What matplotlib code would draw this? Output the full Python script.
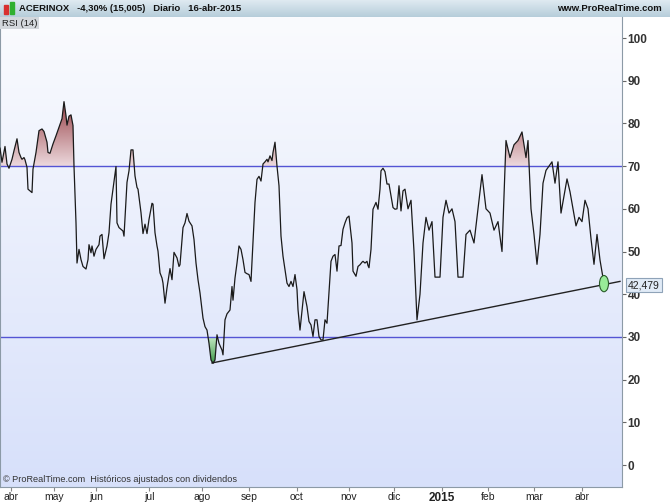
import numpy as np
import matplotlib
matplotlib.use("Agg")
import matplotlib.pyplot as plt
from matplotlib.colors import LinearSegmentedColormap
from matplotlib.patches import PathPatch, Ellipse, Rectangle
from matplotlib.path import Path

plt.rcParams["font.family"] = ["Liberation Sans", "DejaVu Sans"]

# RSI(14) ACERINOX, eje x = indice temporal (sesiones escaladas)
t = [0, 2, 5, 7, 9, 12, 14, 17, 19, 21, 22, 24, 25, 27, 28, 30, 32, 33, 36, 39,
     42, 44, 47, 48, 50, 53, 56, 59, 62, 64, 66, 67, 69, 71, 73, 74, 76, 77, 79, 81,
     83, 86, 88, 89, 91, 92, 94, 96, 99,
     100, 102, 104, 107, 109, 111, 113, 116, 117, 119, 121, 123, 124, 127, 129, 131,
     133, 135, 137, 138, 141, 143, 145, 147, 149, 152, 153, 155, 157, 158, 160, 162,
     163, 165, 167, 170, 172, 174, 177, 179, 180, 183, 185, 187, 189, 192, 194, 196,
     198, 200,
     203, 205, 207, 209, 211, 213, 215, 217, 219, 222, 223, 225, 227, 230, 232, 233,
     235, 237, 239, 241, 243, 245, 247, 249, 251, 253, 255, 257, 259, 261, 263, 265,
     267, 268, 270, 272, 273, 275, 277, 279, 281, 283, 285, 287, 289, 291, 293, 295,
     297, 298, 300,
     304, 307, 309, 311, 313, 315, 317, 319, 321, 323, 325, 327, 329, 331, 333, 335,
     337, 339, 341, 343, 345, 347, 349, 352, 353, 356, 358, 360, 362, 363, 365, 367,
     368, 369, 371, 373, 376, 378, 380, 381, 383, 385, 387, 389, 391, 393, 395, 397,
     399, 401, 403, 405,
     408, 411, 414, 417, 420, 423, 426, 429, 432, 435, 440, 443, 446, 449, 452, 455,
     458, 463, 466, 470, 474, 478, 482, 486, 490, 494, 498, 502, 506, 510, 514, 518,
     522, 526, 528, 531, 534, 537, 540, 543, 546, 549, 552, 555, 558, 561, 564, 567,
     570, 573, 576, 579, 582, 585, 588, 591, 594, 597, 600, 604]
rsi = [74.2, 70.9, 74.6, 70.5, 69.5, 71.6, 73.6, 76.4, 73.2, 72.0, 71.6, 72.0, 71.5,
       69.7, 64.6, 64.2, 63.8, 69.3, 73.2, 78.3, 78.7, 78.1, 75.6, 73.2, 73.0, 75.2,
       77.1, 79.1, 81.1, 85.1, 81.8, 79.6, 81.7, 82.0, 79.5, 70.0, 56.7, 47.3, 50.5,
       48.1, 46.5, 45.9, 48.1, 51.6, 49.7, 51.3, 48.9, 50.5, 51.6,
       53.6, 54.0, 48.3, 51.3, 54.4, 61.1, 64.6, 69.9, 56.7, 55.6, 55.2, 54.8, 53.6,
       66.2, 68.9, 73.8, 73.8, 67.7, 65.0, 64.6, 59.1, 54.2, 56.4, 54.2, 57.5, 61.3,
       61.1, 54.4, 51.3, 50.1, 45.0, 43.8, 42.6, 37.9, 41.5, 46.0, 43.4, 49.8, 48.5,
       46.5, 46.9, 55.6, 56.7, 58.9, 57.1, 56.0, 52.8, 47.3, 43.4, 40.3,
       34.4, 32.4, 31.6, 28.5, 24.6, 23.8, 24.6, 30.5, 28.5, 26.9, 25.8, 34.0, 35.4,
       36.3, 41.8, 38.6, 43.8, 47.3, 51.3, 50.5, 48.1, 45.1, 44.8, 44.6, 43.0, 52.0,
       61.5, 66.9, 67.6, 66.5, 70.5, 71.0, 71.6, 71.0, 72.4, 71.3, 73.2, 75.6, 70.0,
       65.4, 53.6, 48.9, 45.8, 42.6, 41.8, 43.0, 41.8, 44.6, 41.1, 36.4, 31.6,
       40.6, 37.1, 33.6, 32.8, 30.1, 34.0, 34.0, 30.1, 29.3, 29.3, 34.0, 33.2, 40.3,
       47.7, 48.9, 49.3, 45.4, 51.3, 51.4, 55.2, 56.7, 57.9, 58.3, 52.0, 45.4, 44.2,
       46.5, 46.9, 47.5, 47.7, 47.3, 47.7, 46.7, 46.2, 50.5, 59.9, 61.5, 59.9, 64.6,
       68.9, 69.5, 68.7, 65.8, 65.8, 63.0, 60.3, 59.9, 60.0, 65.4, 59.5, 64.2, 64.6,
       60.0, 62.0, 50.0, 34.0, 40.0, 52.0, 58.0, 55.0, 57.0, 44.0, 44.0, 58.0, 62.0,
       59.0, 60.0, 57.0, 44.0, 44.0, 54.0, 55.0, 52.0, 60.0, 68.0, 60.0, 59.0, 55.0,
       57.0, 50.0, 76.0, 72.0, 75.0, 76.0, 78.0, 72.0, 76.0, 60.0, 54.0, 47.0, 54.0,
       66.0, 69.0, 70.0, 71.0, 66.0, 71.0, 59.0, 63.0, 67.0, 64.0, 60.0, 56.0, 58.0,
       57.0, 62.0, 60.0, 53.0, 47.0, 54.0, 48.0, 42.479]

mes_pos = [11, 54, 96, 149, 202, 249, 297, 349, 394, 442, 488, 534, 582]
mes_txt = ["abr", "may", "jun", "jul", "ago", "sep", "oct", "nov", "dic", "2015",
           "feb", "mar", "abr"]

# linea de tendencia (soporte) entre el minimo de agosto y el ultimo valor
tend_t = [212, 620]
tend_v = [23.9, 43.0]

ultimo = 42.479

t = np.array(t)
rsi = np.array(rsi)

W, H = 670, 503
fig = plt.figure(figsize=(W / 100, H / 100), dpi=100)
fig.patch.set_facecolor("white")

# barra de cabecera
hdr = fig.add_axes([0, 1 - 17 / H, 1, 17 / H])
hdr.imshow(np.linspace(0, 1, 50).reshape(-1, 1), aspect="auto", extent=[0, 1, 0, 1],
           cmap=LinearSegmentedColormap.from_list("h", ["#dfeaf1", "#b6cdda"]))
hdr.set_xlim(0, 1)
hdr.set_ylim(0, 1)
hdr.axis("off")
hdr.add_patch(Rectangle((4 / W, 0.2), 4 / W, 0.5, color="#d83030"))
hdr.add_patch(Rectangle((10 / W, 0.15), 4 / W, 0.75, color="#30b030"))
hdr.text(19 / W, 0.5, "ACERINOX   -4,30% (15,005)   Diario   16-abr-2015",
         fontsize=6.8, fontweight="bold", va="center", color="#111111")
hdr.text(662 / W, 0.5, "www.ProRealTime.com", fontsize=6.8, fontweight="bold",
         va="center", ha="right", color="#111111")

ax = fig.add_axes([0, 16 / H, 622 / W, 470 / H])
ax.set_xlim(0, 622)
ax.set_ylim(-5.15, 104.92)

# fondo degradado
fondo = LinearSegmentedColormap.from_list("f", ["#d7e0fa", "#fafbfe"])
ax.imshow(np.linspace(0, 1, 200).reshape(-1, 1), aspect="auto", cmap=fondo,
          extent=[0, 1, 0, 1], transform=ax.transAxes, origin="lower", zorder=0)


def relleno(mask, base, lo, hi, colores):
    pc = ax.fill_between(t, rsi, base, where=mask, interpolate=True,
                         facecolor="none", edgecolor="none")
    caminos = pc.get_paths()
    if not caminos:
        return
    patch = PathPatch(Path.make_compound_path(*caminos), transform=ax.transData,
                      facecolor="none", edgecolor="none")
    ax.add_patch(patch)
    cm = LinearSegmentedColormap.from_list("g", colores)
    im = ax.imshow(np.linspace(0, 1, 100).reshape(-1, 1), aspect="auto", cmap=cm,
                   extent=[0, 622, lo, hi], origin="lower", zorder=1)
    im.set_clip_path(patch)


relleno(rsi >= 70, 70, 70, 86, ["#ecd8dc", "#93393f"])
relleno((rsi <= 30) & (t < 216), 30, 24, 30, ["#3f9a4a", "#c2e8c2"])

ax.axhline(70, color="#5454d4", lw=1.0, zorder=2)
ax.axhline(30, color="#5454d4", lw=1.0, zorder=2)
ax.plot(tend_t, tend_v, color="#222222", lw=1.0, zorder=3)
ax.plot(t, rsi, color="#1a1a1a", lw=0.9, zorder=4)
ax.add_patch(Ellipse((t[-1], ultimo), 9, 3.8, facecolor="#98ec98",
                     edgecolor="#2a5a2a", lw=0.8, zorder=5))

# ejes
ax.yaxis.tick_right()
ax.set_yticks(range(0, 101, 10))
ax.set_yticklabels([str(v) for v in range(0, 101, 10)], fontsize=8.5,
                   fontweight="bold", color="#333333")
ax.tick_params(axis="y", direction="out", length=3, width=0.8, color="#666666", pad=1)
ax.set_xticks(mes_pos)
ax.set_xticklabels(mes_txt, fontsize=7.5, color="#222222")
for lab in ax.get_xticklabels():
    if lab.get_text() == "2015":
        lab.set_fontweight("bold")
        lab.set_fontsize(8.5)
ax.tick_params(axis="x", direction="out", length=3, width=0.8, color="#888888", pad=0.5)
for s in ["left", "right", "bottom"]:
    ax.spines[s].set_color("#8c9aa6")
ax.spines["top"].set_visible(False)

fig.text(2 / W, 1 - 23 / H, "RSI (14)", fontsize=6.8, va="center", color="#222222",
         bbox=dict(boxstyle="square,pad=0.2", facecolor="#d3d7dc", edgecolor="none"))
fig.text(628 / W, 1 - 285 / H, "42,479", fontsize=7.5, va="center", color="#222222",
         bbox=dict(boxstyle="square,pad=0.2", facecolor="#e1ebf7", edgecolor="#8fa3b8",
                   lw=0.8))
ax.text(3, -3.9, "\u00a9 ProRealTime.com  Hist\u00f3ricos ajustados con dividendos",
        fontsize=6.6, color="#333333", zorder=6)

fig.savefig("out.png", dpi=100)
